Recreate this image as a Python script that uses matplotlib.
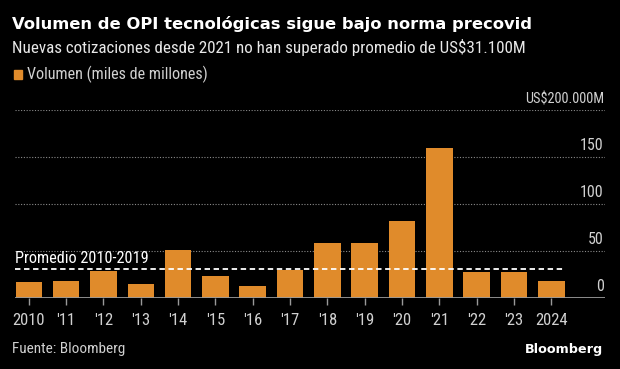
import matplotlib
matplotlib.use("Agg")
import matplotlib.pyplot as plt
import matplotlib.transforms as mtrans
from matplotlib import font_manager as fm

years = ["2010", "'11", "'12", "'13", "'14", "'15", "'16", "'17", "'18", "'19",
         "'20", "'21", "'22", "'23", "2024"]
volumes = [17, 18, 28.7, 15, 50.7, 23.8, 12.4, 29.8, 58.9, 58, 82, 160, 27.7, 27.3, 17.8]
average_2010_2019 = 31.1
ytick_values = [0, 50, 100, 150, 200]
ytick_labels = ["0", "50", "100", "150", "US$200.000M"]


def pick_condensed():
    prefs = ["Roboto Condensed", "Open Sans Condensed", "Liberation Sans Narrow",
             "DejaVu Sans", "Noto Sans", "Open Sans", "Inter"]
    cands = [f for f in fm.fontManager.ttflist
             if f.weight in (400, "normal", "regular", "book")
             and f.style == "normal"
             and (f.stretch in ("condensed", "semi-condensed", "extra-condensed")
                  or "Condensed" in f.fname or "Narrow" in f.fname)]
    for p in prefs:
        for f in cands:
            if f.name.startswith(p) and "Bold" not in f.fname and "Oblique" not in f.fname \
                    and "Italic" not in f.fname:
                return fm.FontProperties(fname=f.fname)
    return None


cond = pick_condensed()


def fp(size):
    if cond is not None:
        p = cond.copy()
        p.set_size(size)
        return p
    return fm.FontProperties(family="DejaVu Sans", size=size * 0.9)


BAR = "#E08B2B"
GRID = "#8a8a8a"
TXT = "#d0d0d0"

fig = plt.figure(figsize=(6.2, 3.69), dpi=100, facecolor="black")
ax = fig.add_axes([15/620, 71/369, 590/620, 188/369], facecolor="black")

x = list(range(len(years)))
ax.bar(x, volumes, width=0.71, color=BAR, zorder=3)
ax.set_xlim(-0.37, 15.44)
ax.set_ylim(0, 200)

for v in ytick_values[1:]:
    ax.axhline(v, color=GRID, lw=0.8, ls=(0, (1, 1.5)), zorder=1)
ax.axhline(0, color="#9a9a9a", lw=2, zorder=4)

trans = mtrans.blended_transform_factory(ax.transAxes, ax.transData)
ylabels = []
for v, lab in zip(ytick_values, ytick_labels):
    ylabels.append(ax.text(0.998, v + 4, lab, transform=trans, ha="right", va="bottom",
                           color=TXT, fontproperties=fp(11.5)))

ax.plot([-0.37, 14.36], [average_2010_2019] * 2, color="white", lw=1.3,
        ls=(0, (3, 2)), zorder=5)
ax.text(-0.37, average_2010_2019 + 3, "Promedio 2010-2019", color="white",
        fontproperties=fp(11.7), ha="left", va="bottom", zorder=6)

for s in ax.spines.values():
    s.set_visible(False)
ax.set_yticks([])
ax.set_xticks(x)
ax.set_xticklabels(years, color=TXT)
for t in ax.get_xticklabels():
    t.set_fontproperties(fp(12))
ax.tick_params(axis="x", colors="#9a9a9a", length=5, width=1, pad=6, labelcolor=TXT)

title = fig.text(12/620, 1 - 24/369, "Volumen de OPI tecnológicas sigue bajo norma precovid",
                 color="white", fontsize=12.5, fontweight="bold", ha="left", va="center")
sub = fig.text(12/620, 1 - 47/369,
               "Nuevas cotizaciones desde 2021 no han superado promedio de US$31.100M",
               color="#e8e8e8", fontproperties=fp(12.5), ha="left", va="center")
fig.patches.append(plt.Rectangle((14/620, 1 - 79/369), 8/620, 9/369, transform=fig.transFigure,
                                 color=BAR, figure=fig))
legend_txt = fig.text(27/620, 1 - 74/369, "Volumen (miles de millones)", color=TXT,
                      fontproperties=fp(12), ha="left", va="center")
fig.text(12/620, 1 - 349/369, "Fuente: Bloomberg", color=TXT, fontproperties=fp(11),
         ha="left", va="center")
fig.text(603/620, 1 - 349/369, "Bloomberg", color="white", fontsize=9.2, fontweight="bold",
         ha="right", va="center")

# fit title and subtitle widths to the reference layout
fig.canvas.draw()
r = fig.canvas.get_renderer()
for t, target in ((title, 520), (sub, 515), (legend_txt, 181), (ylabels[-1], 80)):
    w = t.get_window_extent(r).width
    t.set_fontsize(t.get_fontsize() * target / w)

fig.savefig("out.png", dpi=100, facecolor="black")
